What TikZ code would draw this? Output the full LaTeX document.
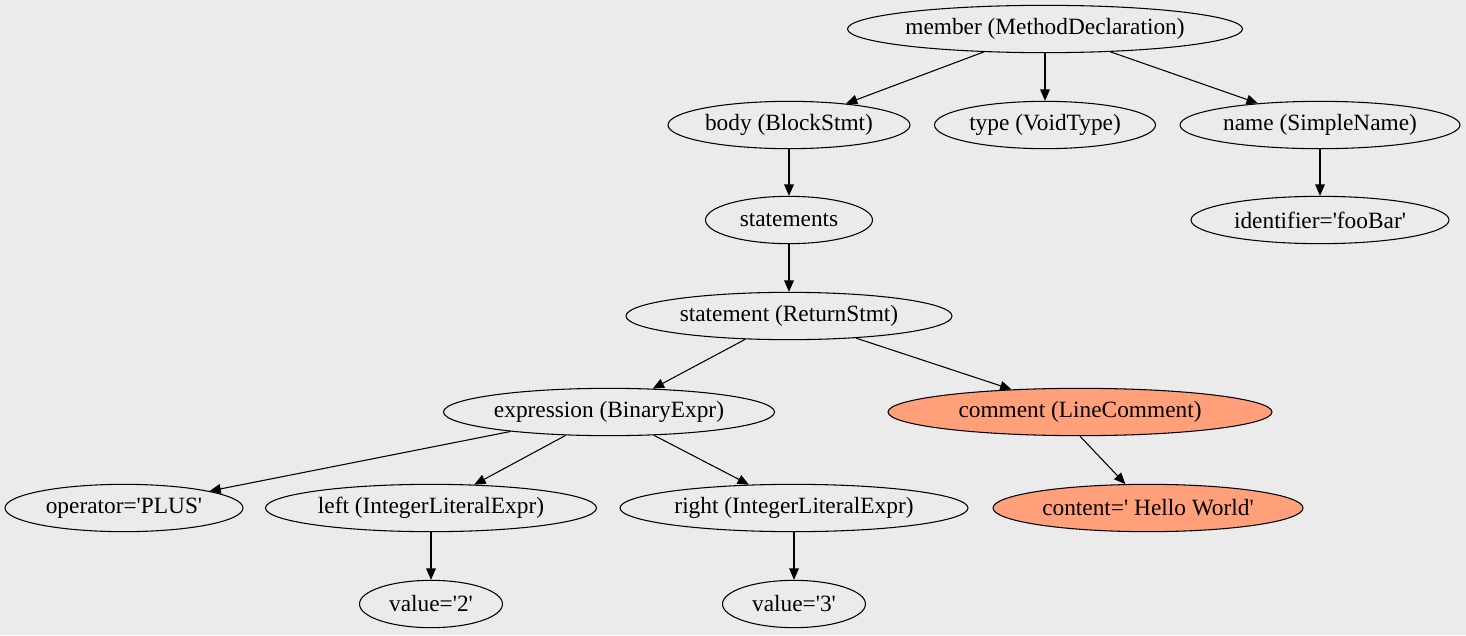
\documentclass[tikz,border=0pt]{standalone}
\usepackage{fontspec}
\setmainfont{Liberation Serif}
\usetikzlibrary{shapes.geometric,arrows.meta}
\definecolor{bggray}{RGB}{235,235,235}
\definecolor{salmon}{RGB}{255,160,122}
\newcommand{\sq}{\textquotesingle}
\tikzset{
  tnode/.style={draw,ellipse,inner sep=0pt,minimum height=35.5pt,minimum width=#1*0.75pt},
  hot/.style={fill=salmon},
  edge/.style={-{Triangle[length=8.5pt,width=7.2pt]},line width=0.8pt}
}
\begin{document}
\begin{tikzpicture}[x=0.75pt,y=-0.75pt,font=\fontsize{17.5}{20}\selectfont,line width=0.8pt]
\fill [bggray] (0,0) rectangle (1466,635);
\useasboundingbox (0,0) rectangle (1466,635);

\node [tnode=395] (member) at (1045,29) {member (MethodDeclaration)};
\node [tnode=242] (body) at (789,125) {body (BlockStmt)};
\node [tnode=221] (type) at (1045,125) {type (VoidType)};
\node [tnode=280] (name) at (1320,125) {name (SimpleName)};
\node [tnode=167] (stmts) at (789,220) {statements};
\node [tnode=258] (ident) at (1320,220) {identifier=\sq fooBar\sq};
\node [tnode=326] (ret) at (789,316) {statement (ReturnStmt)};
\node [tnode=331] (expr) at (609,412) {expression (BinaryExpr)};
\node [tnode=384,hot] (comment) at (1080,412) {comment (LineComment)};
\node [tnode=238] (op) at (124,508) {operator=\sq PLUS\sq};
\node [tnode=331] (left) at (431,508) {left (IntegerLiteralExpr)};
\node [tnode=348] (right) at (794,508) {right (IntegerLiteralExpr)};
\node [tnode=310,hot] (content) at (1148,508) {content=\sq{} Hello World\sq};
\node [tnode=143] (val2) at (431,604) {value=\sq 2\sq};
\node [tnode=143] (val3) at (794,604) {value=\sq 3\sq};

\draw [edge] (member) -- (body);
\draw [edge] (member) -- (type);
\draw [edge] (member) -- (name);
\draw [edge] (body) -- (stmts);
\draw [edge] (name) -- (ident);
\draw [edge] (stmts) -- (ret);
\draw [edge] (ret) -- (expr);
\draw [edge] (ret) -- (comment);
\draw [edge] (expr) -- (op);
\draw [edge] (expr) -- (left);
\draw [edge] (expr) -- (right);
\draw [edge] (comment.south) -- (content);
\draw [edge] (left) -- (val2);
\draw [edge] (right) -- (val3);

\end{tikzpicture}
\end{document}
